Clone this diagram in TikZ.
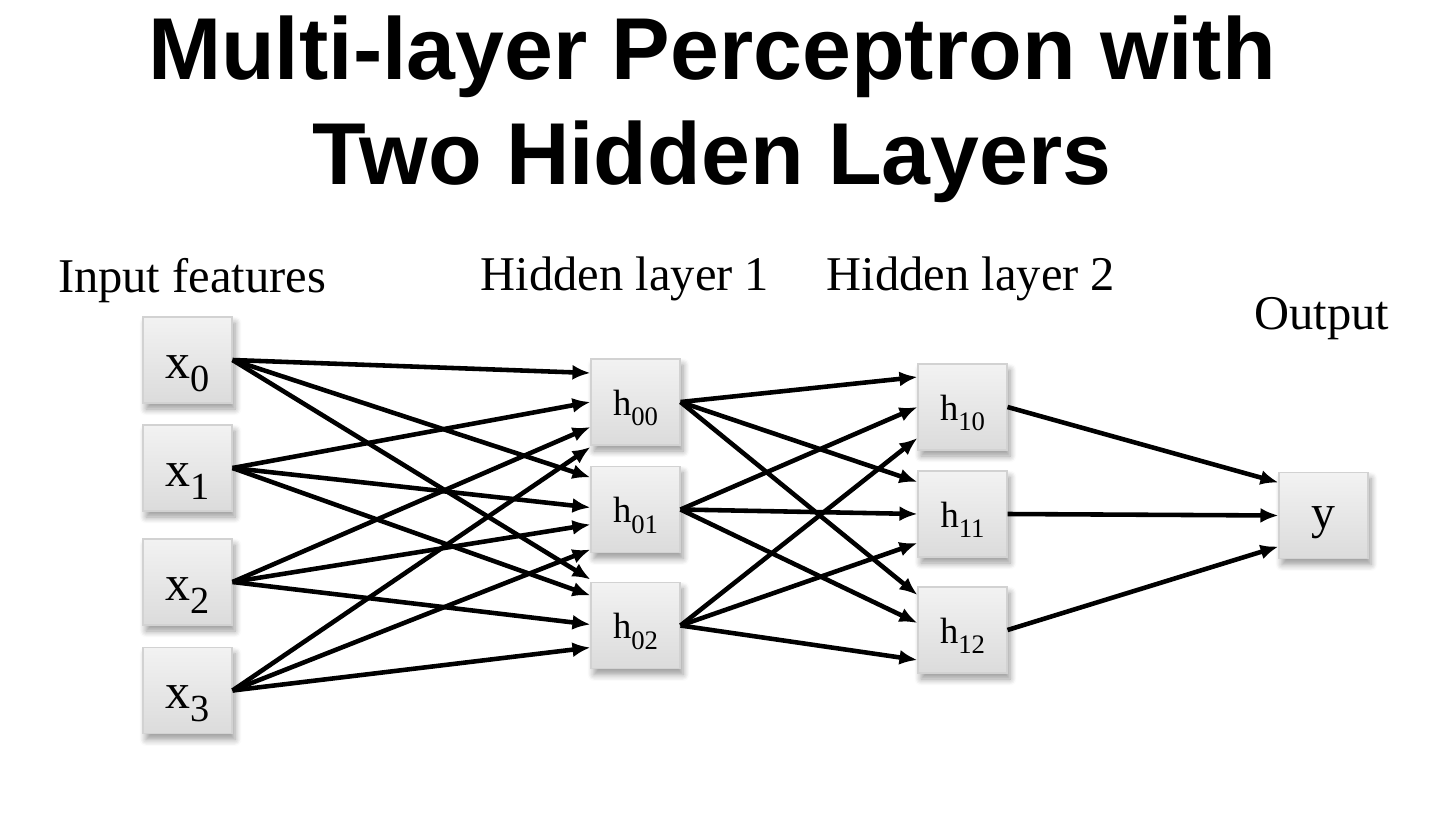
\documentclass[tikz,border=0pt]{standalone}
\usepackage{fontspec}
\setmainfont{Liberation Serif}
\newfontfamily\titlefont{Liberation Sans}
\usetikzlibrary{arrows.meta,shadows.blur}

\newcommand{\insub}[1]{\raisebox{-3.7pt}{\fontsize{10.9}{12}\selectfont #1}}
\newcommand{\hidsub}[1]{\raisebox{-3.1pt}{\fontsize{7.6}{9}\selectfont #1}}

\begin{document}
\begin{tikzpicture}[
    unit/.style={draw=gray!35, line width=0.3pt, top color=gray!10, bottom color=gray!28,
      minimum width=0.89cm, minimum height=0.86cm, inner sep=0pt, text depth=0pt,
      blur shadow={shadow xshift=0.3mm, shadow yshift=-0.6mm, shadow opacity=40, shadow blur steps=6}},
    conn/.style={-{Latex[length=1.8mm,width=1.5mm]}, line width=1.3pt},
    layername/.style={anchor=base, font=\fontsize{13.8}{16}\selectfont}
  ]
  \useasboundingbox (0,0) rectangle (14.48,-8.34);

  % title
  \node[align=center, inner sep=0pt, anchor=north,
    font=\titlefont\bfseries\fontsize{25}{29.9}\selectfont] (title) at (7.12,-0.15)
    {Multi-layer Perceptron with\\Two Hidden Layers};

  % layer names
  \node[layername] (inlabel) at (1.92,-2.92) {Input features};
  \node[layername] (h1label) at (6.25,-2.90) {Hidden layer 1};
  \node[layername] (h2label) at (9.71,-2.90) {Hidden layer 2};
  \node[layername] (outlabel) at (13.22,-3.29) {Output};

  % units
  \foreach \i/\y in {0/-3.60, 1/-4.68, 2/-5.82, 3/-6.905}
    \node[unit, text height=0.36cm, font=\fontsize{14.2}{17}\selectfont] (x\i) at (1.875,\y) {x\insub{\i}};
  \foreach \i/\y in {0/-4.02, 1/-5.095, 2/-6.255}
    \node[unit, text height=0.26cm, font=\fontsize{10.4}{12}\selectfont] (h0\i) at (6.355,\y) {h\hidsub{0\i}};
  \foreach \i/\y in {0/-4.07, 1/-5.14, 2/-6.30}
    \node[unit, text height=0.26cm, font=\fontsize{10.4}{12}\selectfont] (h1\i) at (9.625,\y) {h\hidsub{1\i}};
  \node[unit, text height=0.25cm, font=\fontsize{13.6}{16}\selectfont] (y) at (13.235,-5.155) {y};

  % weights
  \foreach \s/\t/\dy in {x0/h00/0.29, x1/h00/0, x2/h00/-0.25, x3/h00/-0.45,
      x0/h01/0.32, x1/h01/0.02, x2/h01/-0.15, x3/h01/-0.40,
      x0/h02/0.46, x1/h02/0.30, x2/h02/0.01, x3/h02/-0.22,
      h00/h10/0.30, h01/h10/0, h02/h10/-0.31,
      h00/h11/0.32, h01/h11/0, h02/h11/-0.29,
      h00/h12/0.35, h01/h12/0.07, h02/h12/-0.30,
      h10/y/0.33, h11/y/0, h12/y/-0.31}
    \draw[conn] (\s.east) -- ([yshift=\dy cm]\t.west);
\end{tikzpicture}
\end{document}
